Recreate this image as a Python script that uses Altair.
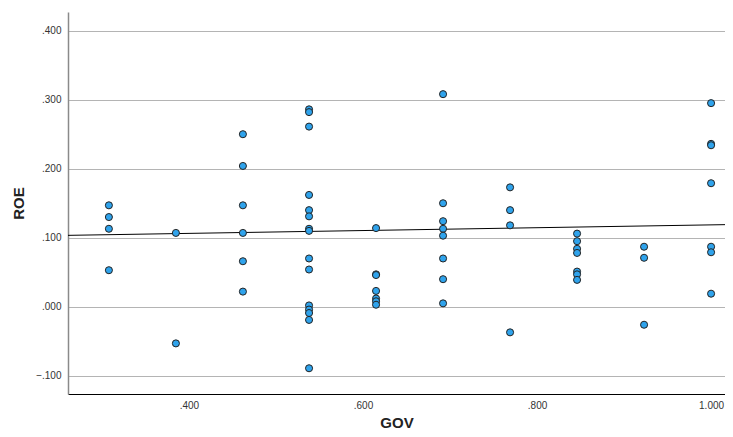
import altair as alt
import pandas as pd

gov = ([0.308] * 4 + [0.385] * 2 + [0.462] * 6 + [0.538] * 15 + [0.615] * 7 +
       [0.692] * 8 + [0.769] * 4 + [0.846] * 7 + [0.923] * 3 + [1.000] * 7)
roe = [0.147, 0.130, 0.113, 0.053,
       0.107, -0.053,
       0.250, 0.204, 0.147, 0.107, 0.066, 0.022,
       0.286, 0.282, 0.261, 0.162, 0.140, 0.131, 0.113, 0.110, 0.070, 0.054,
       0.002, -0.004, -0.009, -0.019, -0.089,
       0.114, 0.047, 0.046, 0.023, 0.012, 0.008, 0.003,
       0.308, 0.150, 0.124, 0.113, 0.103, 0.070, 0.040, 0.005,
       0.173, 0.140, 0.118, -0.037,
       0.106, 0.095, 0.084, 0.078, 0.051, 0.047, 0.039,
       0.087, 0.071, -0.026,
       0.295, 0.236, 0.234, 0.179, 0.087, 0.079, 0.019]
# fit line end points
fit_gov = [0.261, 1.016]
fit_roe = [0.1035, 0.1190]
x_ticks = [0.4, 0.6, 0.8, 1.0]
y_ticks = [-0.1, 0.0, 0.1, 0.2, 0.3, 0.4]

df = pd.DataFrame({"GOV": gov, "ROE": roe})
fit_df = pd.DataFrame({"GOV": fit_gov, "ROE": fit_roe})
x_dom = [0.261, 1.016]
y_dom = [-0.1263, 0.427]

lab = "replace(format(datum.value, '.3f'), '0.', '.')"

x_enc = alt.X("GOV:Q", scale=alt.Scale(domain=x_dom, nice=False, zero=False),
              axis=alt.Axis(values=x_ticks, labelExpr=lab, grid=False, ticks=False,
                            domainColor="#000000", domainWidth=1,
                            labelFont="Liberation Sans", labelFontSize=10, labelColor="#333333",
                            labelPadding=6,
                            title="GOV", titleFont="Liberation Sans", titleFontSize=15,
                            titleFontWeight="bold", titleColor="#222222",
                            titleBaseline="alphabetic", titleY=33))
y_enc = alt.Y("ROE:Q", scale=alt.Scale(domain=y_dom, nice=False, zero=False),
              axis=alt.Axis(values=y_ticks, labelExpr=lab, grid=True, gridColor="#b4b4b4",
                            gridWidth=1, ticks=False, domainColor="#8a8a8a", domainWidth=1.5,
                            labelFont="Liberation Sans", labelFontSize=10, labelColor="#333333",
                            labelPadding=7,
                            title="ROE", titleFont="Liberation Sans", titleFontSize=15,
                            titleFontWeight="bold", titleColor="#222222", titlePadding=9))

points = alt.Chart(df).mark_point(filled=True, size=50, fill="#2fa3ec", stroke="#222222",
                                  strokeWidth=1, opacity=1).encode(x=x_enc, y=y_enc)

line = alt.Chart(fit_df).mark_line(color="#000000", strokeWidth=1).encode(
    x="GOV:Q", y="ROE:Q")

chart = (line + points).properties(
    width=657, height=382,
    autosize=alt.AutoSizeParams(type="none"),
    padding={"left": 60, "top": 4, "right": 0, "bottom": 35},
).configure_view(stroke=None)

chart.save("out.html", embed_options={"renderer": "svg", "actions": False})
